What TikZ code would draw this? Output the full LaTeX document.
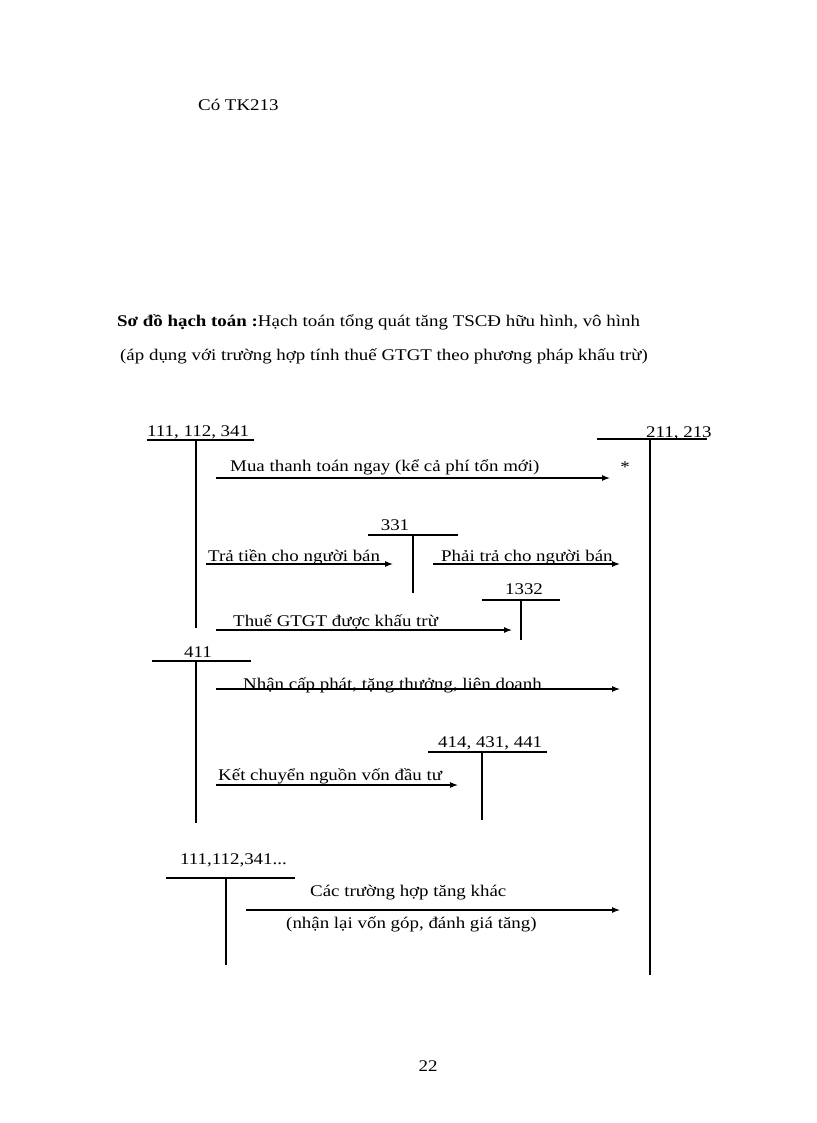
\documentclass[tikz,border=0pt]{standalone}
\usepackage{fontspec}
\setmainfont{Liberation Serif}[FakeStretch=1.16]
\usetikzlibrary{arrows.meta}
\begin{document}
\begin{tikzpicture}[x=1pt,y=-1pt,
  txt/.style={inner sep=0pt,anchor=base west,font=\fontsize{16.3}{19}\selectfont},
  ctxt/.style={inner sep=0pt,anchor=base,font=\fontsize{16.3}{19}\selectfont},
  acct/.style={line width=1.1pt},
  flow/.style={line width=1.1pt,-{Latex[length=8pt,width=6pt]}}]
\useasboundingbox[fill=white] (0,0) rectangle (816,1123);
% headings
\node[txt] (cotk) at (198,111) {Có TK213};
\node[txt] (title1) at (117,326) {\textbf{Sơ đồ hạch toán :}Hạch toán tổng quát tăng TSCĐ hữu hình, vô hình};
\node[txt] (title2) at (120,360) {(áp dụng với trường hợp tính thuế GTGT theo phương pháp khấu trừ)};
% account 111,112,341
\node[txt] (a1) at (147,436) {111, 112, 341};
\coordinate (a1l) at (147,440); \coordinate (a1r) at (254,440);
\coordinate (a1t) at (196,440); \coordinate (a1b) at (196,628);
\draw[acct] (a1l) -- (a1r);
\draw[acct] (a1t) -- (a1b);
% account 211,213
\node[txt] (a2) at (646,437) {211, 213};
\coordinate (a2l) at (597,439); \coordinate (a2r) at (707,439);
\coordinate (a2t) at (650,439); \coordinate (a2b) at (650,975);
\draw[acct] (a2l) -- (a2r);
\draw[acct] (a2t) -- (a2b);
% arrow 1
\coordinate (f1s) at (216,478); \coordinate (f1e) at (610,478);
\draw[flow] (f1s) -- (f1e);
\node[txt] (t1) at (230,471) {Mua thanh toán ngay (kể cả phí tổn mới)};
\node[ctxt] (star) at (625,472) {*};
% account 331
\node[ctxt] (a3) at (395,530) {331};
\coordinate (a3l) at (368,535); \coordinate (a3r) at (458,535);
\coordinate (a3t) at (413,535); \coordinate (a3b) at (413,593);
\draw[acct] (a3l) -- (a3r);
\draw[acct] (a3t) -- (a3b);
\coordinate (f2s) at (206,564); \coordinate (f2e) at (393,564);
\draw[flow] (f2s) -- (f2e);
\node[txt] (t2) at (208,561) {Trả tiền cho người bán};
\coordinate (f3s) at (433,564); \coordinate (f3e) at (620,564);
\draw[flow] (f3s) -- (f3e);
\node[txt] (t3) at (441,561) {Phải trả cho người bán};
% account 1332
\node[ctxt] (a4) at (524,594) {1332};
\coordinate (a4l) at (482,600); \coordinate (a4r) at (560,600);
\coordinate (a4t) at (521,600); \coordinate (a4b) at (521,640);
\draw[acct] (a4l) -- (a4r);
\draw[acct] (a4t) -- (a4b);
\coordinate (f4s) at (216,630); \coordinate (f4e) at (512,630);
\draw[flow] (f4s) -- (f4e);
\node[txt] (t4) at (233,626) {Thuế GTGT được khấu trừ};
% account 411
\node[ctxt] (a5) at (198,657) {411};
\coordinate (a5l) at (152,661); \coordinate (a5r) at (251,661);
\coordinate (a5t) at (196,661); \coordinate (a5b) at (196,823);
\draw[acct] (a5l) -- (a5r);
\draw[acct] (a5t) -- (a5b);
\coordinate (f5s) at (216,689); \coordinate (f5e) at (620,689);
\draw[flow] (f5s) -- (f5e);
\node[txt] (t5) at (243,689) {Nhận cấp phát, tặng thưởng, liên doanh};
% account 414,431,441
\node[txt] (a6) at (438,747) {414, 431, 441};
\coordinate (a6l) at (428,752); \coordinate (a6r) at (547,752);
\coordinate (a6t) at (482,752); \coordinate (a6b) at (482,820);
\draw[acct] (a6l) -- (a6r);
\draw[acct] (a6t) -- (a6b);
\coordinate (f6s) at (216,785); \coordinate (f6e) at (458,785);
\draw[flow] (f6s) -- (f6e);
\node[txt] (t6) at (218,780) {Kết chuyển nguồn vốn đầu tư};
% account 111,112,341...
\node[txt] (a7) at (180,864) {111,112,341...};
\coordinate (a7l) at (166,878); \coordinate (a7r) at (295,878);
\coordinate (a7t) at (226,878); \coordinate (a7b) at (226,965);
\draw[acct] (a7l) -- (a7r);
\draw[acct] (a7t) -- (a7b);
\coordinate (f7s) at (246,910); \coordinate (f7e) at (620,910);
\draw[flow] (f7s) -- (f7e);
\node[txt] (t7) at (310,896) {Các trường hợp tăng khác};
\node[txt] (t8) at (286,928) {(nhận lại vốn góp, đánh giá tăng)};
% page number
\node[ctxt] (page) at (428,1071) {22};
\end{tikzpicture}
\end{document}
